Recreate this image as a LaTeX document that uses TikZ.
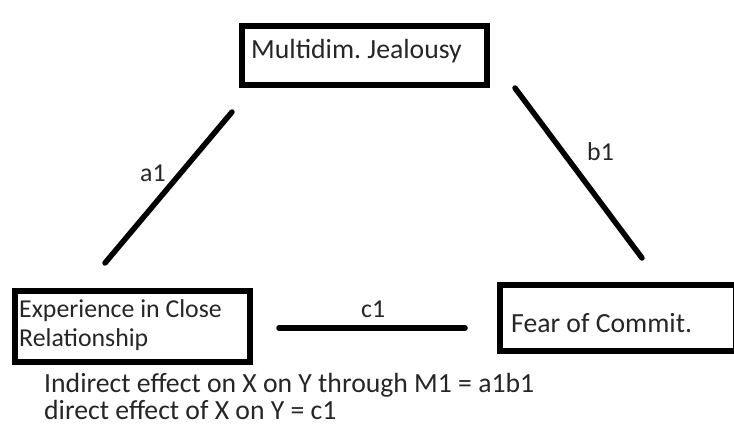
\documentclass[tikz,border=0pt]{standalone}
\usepackage{fontspec}
\setmainfont{Carlito}
\definecolor{txt}{HTML}{262626}
\begin{document}
\frenchspacing
\begin{tikzpicture}[x=1pt,y=-1pt,
  boxframe/.style={draw=black,line width=6pt,inner sep=0pt,minimum width=#1},
  linkline/.style={line width=5.5pt,line cap=round},
  lbl/.style={text=txt,font=\fontsize{27.7}{32}\selectfont,inner sep=0pt,anchor=base west},
  smalllbl/.style={lbl,font=\fontsize{25.8}{30}\selectfont}]
\useasboundingbox (0,0) rectangle (734,429);
\clip (0,0) rectangle (734,429);
\fill[white] (0,0) rectangle (734,429);
% boxes
\node[boxframe=244.5pt,minimum height=59.5pt] (mj) at (364.25,55.25) {};
\node[boxframe=235pt,minimum height=71pt] (ecr) at (132.5,326.5) {};
\node[boxframe=236pt,minimum height=66pt] (fc) at (618,317.5) {};
% box texts
\node[lbl] (mjt) at (251,58) {Multidim. Jealousy};
\node[smalllbl] (ecr1) at (19,317) {Experience in Close};
\node[smalllbl] (ecr2) at (19,346) {Relationship};
\node[lbl] (fct) at (511,332) {Fear of Commit.};
% connector end points
\coordinate (a0) at (105,263);
\coordinate (a2) at (232,112);
\coordinate (b0) at (515,88);
\coordinate (b2) at (642,258);
\coordinate (c0) at (279,328);
\coordinate (c2) at (465,328);
\draw[linkline] (a0) -- (a2);
\draw[linkline] (b0) -- (b2);
\draw[linkline] (c0) -- (c2);
% path labels
\node[smalllbl] (la) at (140,181) {a1};
\node[smalllbl] (lb) at (587,160) {b1};
\node[smalllbl] (lc) at (361,317) {c1};
% notes
\node[lbl] (n1) at (44,392) {Indirect effect on X on Y through M1 = a1b1};
\node[lbl] (n2) at (44,419) {direct effect of X on Y = c1};
\end{tikzpicture}
\end{document}
